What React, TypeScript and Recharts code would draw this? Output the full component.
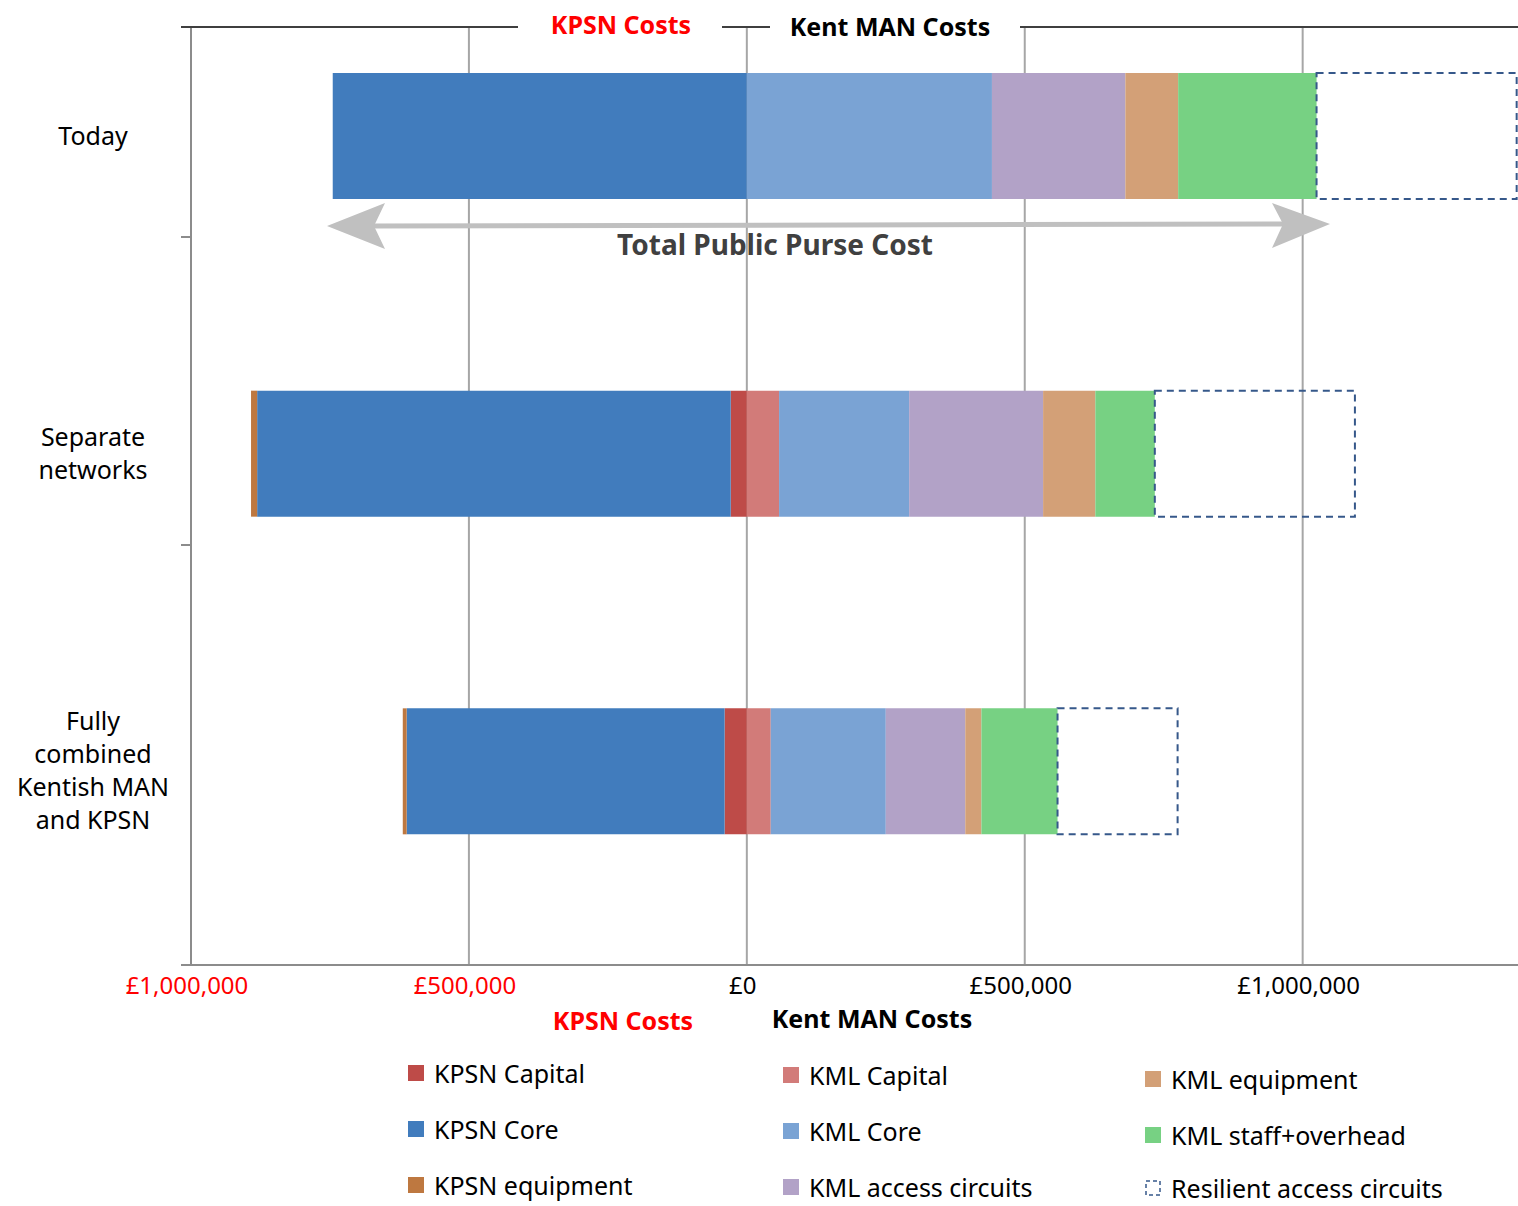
import React from "react";
import { BarChart, Bar, XAxis, YAxis, CartesianGrid } from "recharts";

// categories and their wrapped labels
const categories = ["Today", "Separate networks", "Fully combined Kentish MAN and KPSN"];
const categoryLines = [["Today"], ["Separate", "networks"], ["Fully", "combined", "Kentish MAN", "and KPSN"]];

// KPSN costs are drawn to the left (negative), Kent MAN costs to the right
const kpsnCapital = [0, -29000, -40000];
const kpsnCore = [-745000, -852000, -572000];
const kpsnEquipment = [0, -11000, -7000];
const kmlCapital = [0, 58000, 43000];
const kmlCore = [441000, 234000, 207000];
const kmlAccess = [240000, 241000, 143000];
const kmlEquipment = [95000, 94000, 29000];
const kmlStaff = [249000, 107000, 137000];
const resilient = [360000, 360000, 216000];

const xTicks = [-1000000, -500000, 0, 500000, 1000000];

const data = categories.map((name, i) => ({
  name,
  kpsnCapital: kpsnCapital[i],
  kpsnCore: kpsnCore[i],
  kpsnEquipment: kpsnEquipment[i],
  kmlCapital: kmlCapital[i],
  kmlCore: kmlCore[i],
  kmlAccess: kmlAccess[i],
  kmlEquipment: kmlEquipment[i],
  kmlStaff: kmlStaff[i],
  resilient: resilient[i],
}));

const FONT = "'Noto Sans', sans-serif";
const DASH = "#36588A";

const SERIES = [
  { key: "kpsnCapital", name: "KPSN Capital", color: "#BE4B48" },
  { key: "kpsnCore", name: "KPSN Core", color: "#417CBD" },
  { key: "kpsnEquipment", name: "KPSN equipment", color: "#BE7840" },
  { key: "kmlCapital", name: "KML Capital", color: "#D27B79" },
  { key: "kmlCore", name: "KML Core", color: "#7AA3D4" },
  { key: "kmlAccess", name: "KML access  circuits", color: "#B2A2C7" },
  { key: "kmlEquipment", name: "KML equipment", color: "#D3A077" },
  { key: "kmlStaff", name: "KML staff+overhead", color: "#77D183" },
];

const fmt = (v: number) => "£" + Math.abs(v).toLocaleString("en-GB");

function XTick(props: any) {
  const { x, y, payload } = props;
  const v = payload.value;
  return (
    <text x={x - 4} y={y + 29} textAnchor="middle" fontFamily={FONT} fontSize={24} fill={v < 0 ? "#FF0000" : "#000"}>
      {fmt(v)}
    </text>
  );
}

function YTick(props: any) {
  const { x, y, payload } = props;
  const idx = categories.indexOf(payload.value);
  const lines = categoryLines[idx] || [payload.value];
  const lh = 33;
  const start = y - ((lines.length - 1) * lh) / 2;
  return (
    <text x={x - 98} textAnchor="middle" fontFamily={FONT} fontSize={25} fill="#000">
      {lines.map((l, i) => (
        <tspan key={i} x={x - 98} y={start + i * lh} dy="0.35em">
          {l}
        </tspan>
      ))}
    </text>
  );
}

const legendCols = [
  { sq: 408, tx: 434, ys: [1073, 1129, 1185], keys: ["kpsnCapital", "kpsnCore", "kpsnEquipment"] },
  { sq: 783, tx: 809, ys: [1075, 1131, 1187], keys: ["kmlCapital", "kmlCore", "kmlAccess"] },
  { sq: 1145, tx: 1171, ys: [1079, 1135, 1188], keys: ["kmlEquipment", "kmlStaff", "resilient"] },
];

export default function App() {
  return (
    <div style={{ position: "absolute", left: 0, top: 0, width: 1518, height: 1206, overflow: "hidden", background: "#fff" }}>
      <BarChart
        width={1560}
        height={1206}
        data={data}
        layout="vertical"
        stackOffset="sign"
        barSize={126}
        margin={{ top: 27, right: 35, bottom: 191, left: 0 }}
      >
        <CartesianGrid horizontal={false} stroke="#A6A6A6" strokeWidth={2} />
        <XAxis
          type="number"
          domain={[-1000000, 1400000]}
          ticks={xTicks}
          allowDataOverflow
          height={50}
          tickSize={0}
          tickMargin={0}
          tickLine={false}
          axisLine={{ stroke: "#8C8C8C", strokeWidth: 2 }}
          tick={<XTick />}
        />
        <YAxis
          type="category"
          dataKey="name"
          width={191}
          tickSize={0}
          tickMargin={0}
          tickLine={false}
          padding={{ top: -50, bottom: 35 }}
          axisLine={{ stroke: "#8C8C8C", strokeWidth: 2 }}
          tick={<YTick />}
        />
        {SERIES.map((s) => (
          <Bar key={s.key} dataKey={s.key} name={s.name} stackId="a" fill={s.color} isAnimationActive={false} />
        ))}
        <Bar
          dataKey="resilient"
          name="Resilient access circuits"
          stackId="a"
          fill="none"
          stroke={DASH}
          strokeWidth={2}
          strokeDasharray="7 5"
          isAnimationActive={false}
        />
      </BarChart>

      <svg width={1518} height={1206} style={{ position: "absolute", left: 0, top: 0, pointerEvents: "none" }}>
        {/* top border broken by the two titles */}
        <g stroke="#3F3F3F" strokeWidth={2}>
          <line x1={181} y1={27} x2={518} y2={27} />
          <line x1={722} y1={27} x2={770} y2={27} />
          <line x1={1020} y1={27} x2={1518} y2={27} />
        </g>
        {/* category boundary tick marks on the left axis */}
        <g stroke="#8C8C8C" strokeWidth={2}>
          <line x1={181} y1={237} x2={192} y2={237} />
          <line x1={181} y1={545} x2={192} y2={545} />
          <line x1={181} y1={965} x2={192} y2={965} />
        </g>
        <text x={621} y={24} textAnchor="middle" dominantBaseline="central" fontFamily={FONT} fontWeight="bold" fontSize={25} fill="#FF0000">
          KPSN Costs
        </text>
        <text x={890} y={26} textAnchor="middle" dominantBaseline="central" fontFamily={FONT} fontWeight="bold" fontSize={25} fill="#000">
          Kent MAN Costs
        </text>
        <text x={623} y={1020} textAnchor="middle" dominantBaseline="central" fontFamily={FONT} fontWeight="bold" fontSize={25} fill="#FF0000">
          KPSN Costs
        </text>
        <text x={872} y={1018} textAnchor="middle" dominantBaseline="central" fontFamily={FONT} fontWeight="bold" fontSize={25} fill="#000">
          Kent MAN Costs
        </text>

        {/* total public purse arrow */}
        <line x1={372} y1={226} x2={1285} y2={224} stroke="#C0C0C0" strokeWidth={5} />
        <polygon points="327,226 385,203 374,226 385,249" fill="#C0C0C0" />
        <polygon points="1330,224 1272,203 1283,224 1272,248" fill="#C0C0C0" />
        <text x={775} y={244} textAnchor="middle" dominantBaseline="central" fontFamily={FONT} fontWeight="bold" fontSize={28} fill="#404040">
          Total Public Purse Cost
        </text>

        {/* legend */}
        {legendCols.map((col, ci) =>
          col.keys.map((k, ri) => {
            const s = SERIES.find((q) => q.key === k);
            const y = col.ys[ri];
            return (
              <g key={ci + "-" + ri}>
                {s ? (
                  <rect x={col.sq} y={y - 8} width={16} height={16} fill={s.color} />
                ) : (
                  <rect x={col.sq + 1} y={y - 7} width={14} height={14} fill="none" stroke={DASH} strokeWidth={1.5} strokeDasharray="4 3" />
                )}
                <text x={col.tx} y={y} dominantBaseline="central" fontFamily={FONT} fontSize={25} fill="#000">
                  {s ? s.name : "Resilient access circuits"}
                </text>
              </g>
            );
          })
        )}
      </svg>
    </div>
  );
}
